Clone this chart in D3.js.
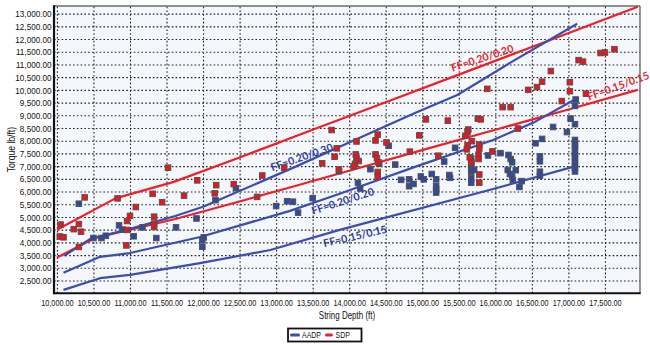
<!DOCTYPE html>
<html>
<head>
<meta charset="utf-8">
<script src="https://cdn.jsdelivr.net/npm/d3@7/dist/d3.min.js"></script>
<style>
  html, body { margin: 0; padding: 0; background: #fff; }
  svg { display: block; }
  text { font-family: "Liberation Sans", Arial, sans-serif; }
</style>
</head>
<body>
<svg id="chart" width="650" height="345"></svg>
<script>
// ---- Axis ticks ----
const depthTicks = d3.range(10000, 17501, 500);
const torqueTicks = d3.range(2500, 13001, 500);

// ---- Measured surface torque, SDP run ----
const sdpDepth = [10050,10040,10090,10230,10300,10330,10380,10300,10830,11080,11310,11440,11000,10960,10960,10950,11330,11330,11330,11520,
  11740,11920,12160,12180,12420,12740,12810,13110,13630,13800,13830,13860,13760,14100,14390,14360,14510,14090,14100,14130,
  14080,14060,14360,14380,14400,14390,14390,14830,14960,15050,15350,15760,15800,15890,16100,16210,16310,16450,16570,16640,
  16760,16910,17020,17020,17140,17200,17240,17440,17500,17630,15630,15620,15590,15680,15620,15780,15780,15610,15960,15220,
  15650,15770,15770,15670,15780,15780];
const sdpTorque = [4700,4230,4200,4520,4720,4420,5770,3820,5730,5390,5910,5580,5040,4840,4490,3880,5010,4740,4610,6940,
  5840,6440,5930,6250,6290,5790,6630,6940,7110,7370,7700,6870,8420,7970,8240,8010,7930,7460,7310,7200,
  7090,6990,7460,7310,7150,6770,6590,7570,8210,8840,8790,8870,8840,10040,9320,9320,8480,10000,10110,10320,
  10740,9560,10300,9950,11170,11110,9850,11450,11470,11600,8440,8330,8190,7980,7820,7850,7690,7660,7580,7410,
  7350,7450,7280,7130,6670,6350];

// ---- Measured surface torque, AADP run ----
const aadpDepth = [10300,10850,10900,11050,11170,11360,10500,10610,10670,11630,11910,11990,11990,12010,12170,12450,13000,13150,13230,13300,
  13500,13860,14290,14410,14630,14120,14150,14710,14820,14880,14820,14540,15450,15300,14980,15020,15130,15190,15370,15380,
  15190,15190,15190,15900,16070,16180,16210,16230,15670,15670,15670,15670,15670,15670,15670,15710,16170,16280,16200,16230,
  16240,16360,16330,17100,17090,17030,17090,16790,16980,16640,16550,17090,17090,17090,17090,17090,17090,17090,17090,17090,
  17090,16610,16610,16610,16610];
const aadpTorque = [5520,4670,4500,4240,4590,4170,4170,4170,4260,4590,4940,4090,3830,4200,5660,6130,5430,5620,5600,5170,
  5740,6800,6880,7090,7060,6340,6120,6460,6480,6300,6210,7800,7720,7180,6590,6480,6690,6480,6650,6540,
  6220,6090,5960,7420,7510,7440,7280,7150,7300,7170,7030,6890,6770,6520,6350,6850,6850,6840,6690,6590,
  6450,6410,6180,9620,9370,8870,8650,8540,8340,8070,7900,8030,7900,7770,7640,7440,7310,7180,7050,6920,
  6790,7380,7190,6780,6620];

// ---- Modelled torque curves (friction factors) ----
const sdpFF20Depth  = [10000,10800,11600,12500,13500,14500,15500,16500,17500,17950];
const sdpFF20Torque = [4500,5730,6380,7340,8430,9510,10600,11690,12780,13270];
const sdpFF15Depth  = [10000,10520,10930,11620,12500,13260,14000,15010,16000,17000,17950];
const sdpFF15Torque = [3400,4170,4450,4920,5610,6220,6820,7640,8430,9230,10000];
const aadpFF2030Depth  = [10100,10450,11000,11620,12000,13260,13870,14900,15480,16200,17120];
const aadpFF2030Torque = [3470,4130,4530,5040,5400,6970,7760,9090,9800,11060,12600];
const aadpFF2020Depth  = [10090,10590,11000,11960,13190,13870,14900,15970,16540,17100];
const aadpFF2020Torque = [2800,3430,3580,4210,5240,5910,6970,8030,8740,9640];
const aadpFF1515Depth  = [10090,10590,11000,11960,12920,13870,15970,17100];
const aadpFF1515Torque = [2130,2590,2720,3180,3700,4490,6100,7000];

// ---- Curve captions: text, depth, torque, angle ----
const captionText   = ["FF=0.20/0.20","FF=0.15/0.15","FF=0.20/0.30","FF=0.20/0.20","FF=0.15/0.15"];
const captionDepth  = [15820,17680,13350,13910,14080];
const captionTorque = [11260,10160,7360,5630,4250];
const captionAngle  = [-18,-20,-19,-18,-13];
const captionSeries = ["SDP","SDP","AADP","AADP","AADP"];

const seriesNames = ["AADP","SDP"];
const colors = { AADP: "#3b4db0", SDP: "#ee1f26" };
const markerFill = { AADP: "#2f4a9e", SDP: "#e3191f" };
const captionColor = { AADP: "#2e3d9a", SDP: "#e3262d" };

const svg = d3.select("#chart");
const P = { left: 54, right: 640, top: 6, bottom: 293.2 };

const x = d3.scaleLinear().domain([9960, 17980]).range([P.left, P.right]);
const y = d3.scaleLinear().domain([2000, 13300]).range([P.bottom, P.top]);

// narrow sans look: horizontal squeeze applied as a transform
const NARROW = 0.78;

// plot background
svg.append("rect")
  .attr("x", P.left).attr("y", P.top)
  .attr("width", P.right - P.left).attr("height", P.bottom - P.top)
  .attr("fill", "#f4f7fb");

const fmt = d3.format(",.2f");

// x axis + vertical dotted grid
const gx = svg.append("g")
  .attr("transform", `translate(0,${P.bottom})`)
  .call(d3.axisBottom(x).tickValues(depthTicks).tickFormat(fmt)
    .tickSize(-(P.bottom - P.top)).tickPadding(6));
gx.select(".domain").remove();
gx.selectAll(".tick line")
  .attr("stroke", "#222").attr("stroke-width", 1.1).attr("stroke-dasharray", "1.6,2.2");
gx.selectAll(".tick text")
  .attr("fill", "#111").style("font-size", "9.4px")
  .attr("transform", `scale(${NARROW},1)`);

// y axis + horizontal dotted grid
const gy = svg.append("g")
  .attr("transform", `translate(${P.left},0)`)
  .call(d3.axisLeft(y).tickValues(torqueTicks).tickFormat(fmt)
    .tickSize(-(P.right - P.left)).tickPadding(2.5));
gy.select(".domain").remove();
gy.selectAll(".tick line")
  .attr("stroke", "#222").attr("stroke-width", 1.1).attr("stroke-dasharray", "1.6,2.2");
gy.selectAll(".tick text")
  .attr("fill", "#111").style("font-size", "9.8px")
  .attr("x", -2.5 / 0.83)
  .attr("transform", "scale(0.83,1)");

// frame
svg.append("line").attr("x1", P.left).attr("x2", P.right).attr("y1", P.top).attr("y2", P.top)
  .attr("stroke", "#6b6b6b").attr("stroke-width", 1.4);
svg.append("line").attr("x1", P.right).attr("x2", P.right).attr("y1", P.top).attr("y2", P.bottom)
  .attr("stroke", "#6b6b6b").attr("stroke-width", 1.4);
svg.append("line").attr("x1", P.left).attr("x2", P.left).attr("y1", P.top - 0.7).attr("y2", P.bottom + 1)
  .attr("stroke", "#111").attr("stroke-width", 2.2);
svg.append("line").attr("x1", P.left - 1).attr("x2", P.right + 0.7).attr("y1", P.bottom).attr("y2", P.bottom)
  .attr("stroke", "#111").attr("stroke-width", 2);

// axis titles
svg.append("text")
  .attr("transform", `translate(${(P.left + P.right) / 2},318.5) scale(0.8,1)`)
  .attr("text-anchor", "middle").attr("fill", "#111").style("font-size", "10px")
  .text("String Depth (ft)");
svg.append("text")
  .attr("transform", `translate(15,${(P.top + P.bottom) / 2}) rotate(-90) scale(0.82,1)`)
  .attr("text-anchor", "middle").attr("fill", "#111").style("font-size", "10.5px")
  .text("Torque lb/ft)");

// friction-factor curves
const line = d3.line().x(d => x(d[0])).y(d => y(d[1]));
const curves = [
  { s: "SDP",  d: d3.zip(sdpFF20Depth, sdpFF20Torque) },
  { s: "SDP",  d: d3.zip(sdpFF15Depth, sdpFF15Torque) },
  { s: "AADP", d: d3.zip(aadpFF2030Depth, aadpFF2030Torque) },
  { s: "AADP", d: d3.zip(aadpFF2020Depth, aadpFF2020Torque) },
  { s: "AADP", d: d3.zip(aadpFF1515Depth, aadpFF1515Torque) }
];
svg.append("g").selectAll("path").data(curves).join("path")
  .attr("d", c => line(c.d))
  .attr("fill", "none")
  .attr("stroke", c => colors[c.s])
  .attr("stroke-width", 2.2)
  .attr("stroke-linejoin", "round");

// measured points
const ms = 5.6;
const pts = [
  ...d3.zip(aadpDepth, aadpTorque).map(d => ({ s: "AADP", d })),
  ...d3.zip(sdpDepth, sdpTorque).map(d => ({ s: "SDP", d }))
];
svg.append("g").selectAll("rect").data(pts).join("rect")
  .attr("x", p => x(p.d[0]) - ms / 2)
  .attr("y", p => y(p.d[1]) - ms / 2)
  .attr("width", ms).attr("height", ms)
  .attr("fill", p => markerFill[p.s])
  .attr("stroke", "#505050").attr("stroke-width", 0.9);

// curve captions
svg.append("g").selectAll("text").data(captionText).join("text")
  .attr("transform", (t, i) => `translate(${x(captionDepth[i])},${y(captionTorque[i])}) rotate(${captionAngle[i]})`)
  .attr("text-anchor", "middle").attr("dominant-baseline", "central")
  .attr("fill", (t, i) => captionColor[captionSeries[i]])
  .style("font-family", "Lato, 'Open Sans', sans-serif")
  .style("font-weight", "700").style("font-size", "10.6px")
  .text(t => t);

// legend
const lg = svg.append("g");
lg.append("rect").attr("x", 288).attr("y", 328.5).attr("width", 73.5).attr("height", 13)
  .attr("fill", "#fff").attr("stroke", "#111").attr("stroke-width", 1.8);
const legendX = { AADP: [291.5, 298.5, 302], SDP: [326.5, 331.5, 335.5] };
seriesNames.forEach(s => {
  const [a, b, t] = legendX[s];
  lg.append("line").attr("x1", a).attr("x2", b).attr("y1", 335).attr("y2", 335)
    .attr("stroke", colors[s]).attr("stroke-width", 3).attr("stroke-linecap", "round");
  lg.append("text").attr("transform", `translate(${t},338) scale(0.82,1)`).attr("fill", "#111")
    .style("font-size", "8.5px").text(s);
});
</script>
</body>
</html>
